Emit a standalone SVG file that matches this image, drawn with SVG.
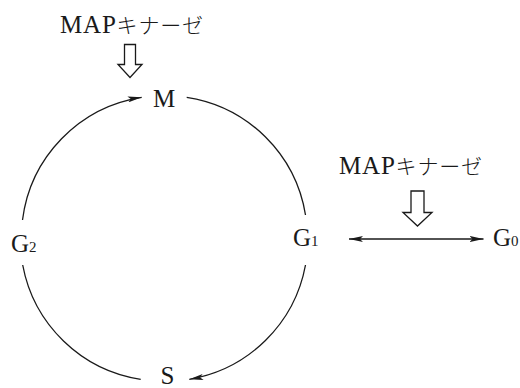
<svg xmlns="http://www.w3.org/2000/svg" width="520" height="388" viewBox="0 0 520 388">
<style>
.lbl{font-family:"Liberation Serif","Noto Sans CJK JP",serif;font-size:25px;fill:#1a1a1a}
.sub{font-size:15px}
.kin{font-family:"Liberation Serif","Noto Sans CJK JP",serif;font-size:25px;fill:#1a1a1a}
.kana{font-family:"Noto Sans CJK JP",sans-serif;font-weight:300;font-size:21px}
.arc{fill:none;stroke:#1a1a1a;stroke-width:1.3}
.hollow{fill:#fff;stroke:#1a1a1a;stroke-width:1.3;stroke-linejoin:miter}
</style>
<defs>
<marker id="ah" viewBox="0 0 14 6" refX="14" refY="3" markerWidth="14" markerHeight="6" markerUnits="userSpaceOnUse" orient="auto-start-reverse">
<path d="M0,0 L14,3 L0,6 L3,3 Z" fill="#1a1a1a"/>
</marker>
</defs>
<rect width="520" height="388" fill="#fff"/>
<g id="connectors">
<path class="arc" d="M 22.5 220 A 142 142 0 0 1 141.7 97.3" marker-end="url(#ah)"/>
<path class="arc" d="M 186.7 97.3 A 142 142 0 0 1 305.5 215"/>
<path class="arc" d="M 305.5 265 A 142 142 0 0 1 189.3 379.3" marker-end="url(#ah)"/>
<path class="arc" d="M 140.7 379.3 A 142 142 0 0 1 22.7 265"/>
<line class="arc" x1="349" y1="239" x2="483.5" y2="239" stroke-width="1" marker-start="url(#ah)" marker-end="url(#ah)"/>
</g>
<g id="kinase-top">
<text class="kin" x="60" y="33" textLength="143" lengthAdjust="spacing">MAP<tspan class="kana">キナーゼ</tspan></text>
<polygon class="hollow" points="124.5,44.5 135.5,44.5 135.5,64.5 142,64.5 130,77.5 118,64.5 124.5,64.5"/>
</g>
<g id="kinase-right">
<text class="kin" x="339" y="174" textLength="143" lengthAdjust="spacing">MAP<tspan class="kana">キナーゼ</tspan></text>
<polygon class="hollow" points="411,191 424,191 424,212.5 432,212.5 417.5,226 403,212.5 411,212.5"/>
</g>
<g id="node-M"><text class="lbl" x="164" y="107" text-anchor="middle">M</text></g>
<g id="node-S"><text class="lbl" x="167.5" y="384" text-anchor="middle">S</text></g>
<g id="node-G1"><text class="lbl" x="293" y="246">G<tspan class="sub">1</tspan></text></g>
<g id="node-G2"><text class="lbl" x="11" y="252">G<tspan class="sub">2</tspan></text></g>
<g id="node-G0"><text class="lbl" x="493" y="246">G<tspan class="sub">0</tspan></text></g>
</svg>
